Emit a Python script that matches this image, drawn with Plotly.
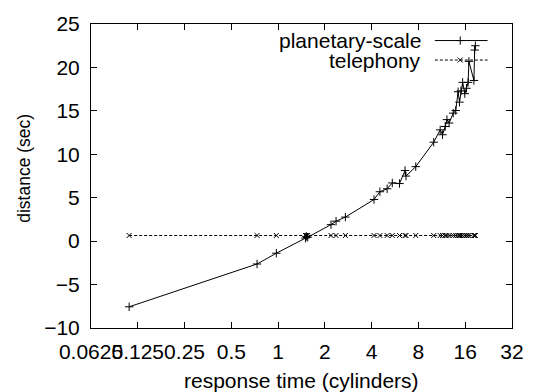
import plotly.graph_objects as go
import math

# ---- data ----
x_vals = [0.110, 0.732, 0.974, 1.50, 1.52, 1.55, 2.19, 2.36, 2.71, 4.14, 4.52, 5.03,
          5.43, 6.04, 6.56, 6.65, 7.69, 10.03, 11.04, 11.43, 11.9, 12.2, 12.6, 13.4,
          13.9, 14.4, 14.7, 15.0, 15.4, 15.9, 16.3, 16.7, 16.9, 18.2, 18.4, 18.6]
planetary = [-7.56, -2.63, -1.39, 0.35, 0.55, 0.45, 1.9, 2.3, 2.77, 4.79, 5.69, 6.03,
             6.70, 6.63, 8.13, 7.49, 8.58, 11.39, 12.81, 12.25, 13.2, 13.99, 13.6, 14.74,
             15.04, 17.2, 16.0, 17.3, 18.28, 16.98, 17.6, 18.28, 20.7, 18.5, 22.0, 22.5]
telephony = [0.65, 0.65, 0.65, 0.65, 0.65, 0.65, 0.65, 0.65, 0.65, 0.65, 0.65, 0.65,
             0.65, 0.65, 0.65, 0.65, 0.65, 0.65, 0.65, 0.65, 0.65, 0.65, 0.65, 0.65,
             0.65, 0.65, 0.65, 0.65, 0.65, 0.65, 0.65, 0.65, 0.65, 0.65, 0.65, 0.65]
x_ticks = [0.0625, 0.125, 0.25, 0.5, 1, 2, 4, 8, 16, 32]
x_ticktext = ["0.0625", "0.125", "0.25", "0.5", "1", "2", "4", "8", "16", "32"]
y_ticks = [-10, -5, 0, 5, 10, 15, 20, 25]
series_names = ["planetary-scale", "telephony"]

W, H = 536, 392
L, R, T, B = 91, 522, 16, 328
FONT = "Liberation Sans"
FS = 21
FS_Y = 17.5

def px(xp):
    return (xp - L) / (R - L)

def py(yp):
    return (B - yp) / (B - T)

fig = go.Figure()
fig.add_trace(go.Scatter(
    x=x_vals, y=planetary, mode="lines+markers", name=series_names[0],
    line=dict(color="black", width=1),
    marker=dict(symbol="cross-thin", size=6, line=dict(color="black", width=1)),
    showlegend=False))
fig.add_trace(go.Scatter(
    x=x_vals, y=telephony, mode="lines+markers", name=series_names[1],
    line=dict(color="black", width=1, dash="3px,2px"),
    marker=dict(symbol="x-thin", size=5, line=dict(color="black", width=1)),
    showlegend=False))

# legend samples on an overlay axis (0..1 over plot area)
leg_rows = [33, 53]
styles = [dict(dash="solid", sym="cross-thin", size=6), dict(dash="3px,2px", sym="x-thin", size=5)]
for name, yrow, st in zip(series_names, leg_rows, styles):
    fig.add_trace(go.Scatter(
        x=[px(443), px(497)], y=[py(yrow), py(yrow)], mode="lines",
        line=dict(color="black", width=1, dash=st["dash"]),
        xaxis="x2", yaxis="y2", showlegend=False, hoverinfo="skip"))
    fig.add_trace(go.Scatter(
        x=[px(469)], y=[py(yrow)], mode="markers",
        marker=dict(symbol=st["sym"], size=st["size"], line=dict(color="black", width=1)),
        xaxis="x2", yaxis="y2", showlegend=False, hoverinfo="skip"))
    fig.add_annotation(x=px(431), y=py(yrow), xref="paper", yref="paper",
                       text=name, showarrow=False, xanchor="right", yanchor="middle",
                       font=dict(family=FONT, size=FS, color="black"))

axis_common = dict(showline=True, linecolor="black", linewidth=1, mirror="ticks",
                   ticks="inside", ticklen=6, tickcolor="black", showgrid=False,
                   zeroline=False, tickfont=dict(family=FONT, size=FS, color="black"))

fig.update_layout(
    width=W, height=H,
    margin=dict(l=L, r=W - R, t=T, b=H - B),
    paper_bgcolor="white", plot_bgcolor="white",
    xaxis=dict(type="log", range=[math.log10(0.0625), math.log10(32)], tickangle=0,
               ticklabelstandoff=5,
               tickmode="array", tickvals=x_ticks, ticktext=x_ticktext, **axis_common),
    yaxis=dict(range=[-10, 25], tickmode="array", tickvals=y_ticks,
               ticklabelstandoff=6, **axis_common),
    xaxis2=dict(overlaying="x", range=[0, 1], visible=False),
    yaxis2=dict(overlaying="y", range=[0, 1], visible=False),
    showlegend=False,
)

fig.add_annotation(x=px(306), y=py(382), xref="paper", yref="paper",
                   text="response time (cylinders)", showarrow=False,
                   xanchor="center", yanchor="middle",
                   font=dict(family=FONT, size=FS, color="black"))
fig.add_annotation(x=px(23), y=py(164), xref="paper", yref="paper",
                   text="distance (sec)", showarrow=False, textangle=-90,
                   xanchor="center", yanchor="middle",
                   font=dict(family=FONT, size=FS_Y, color="black"))

fig.write_html("out.html")
